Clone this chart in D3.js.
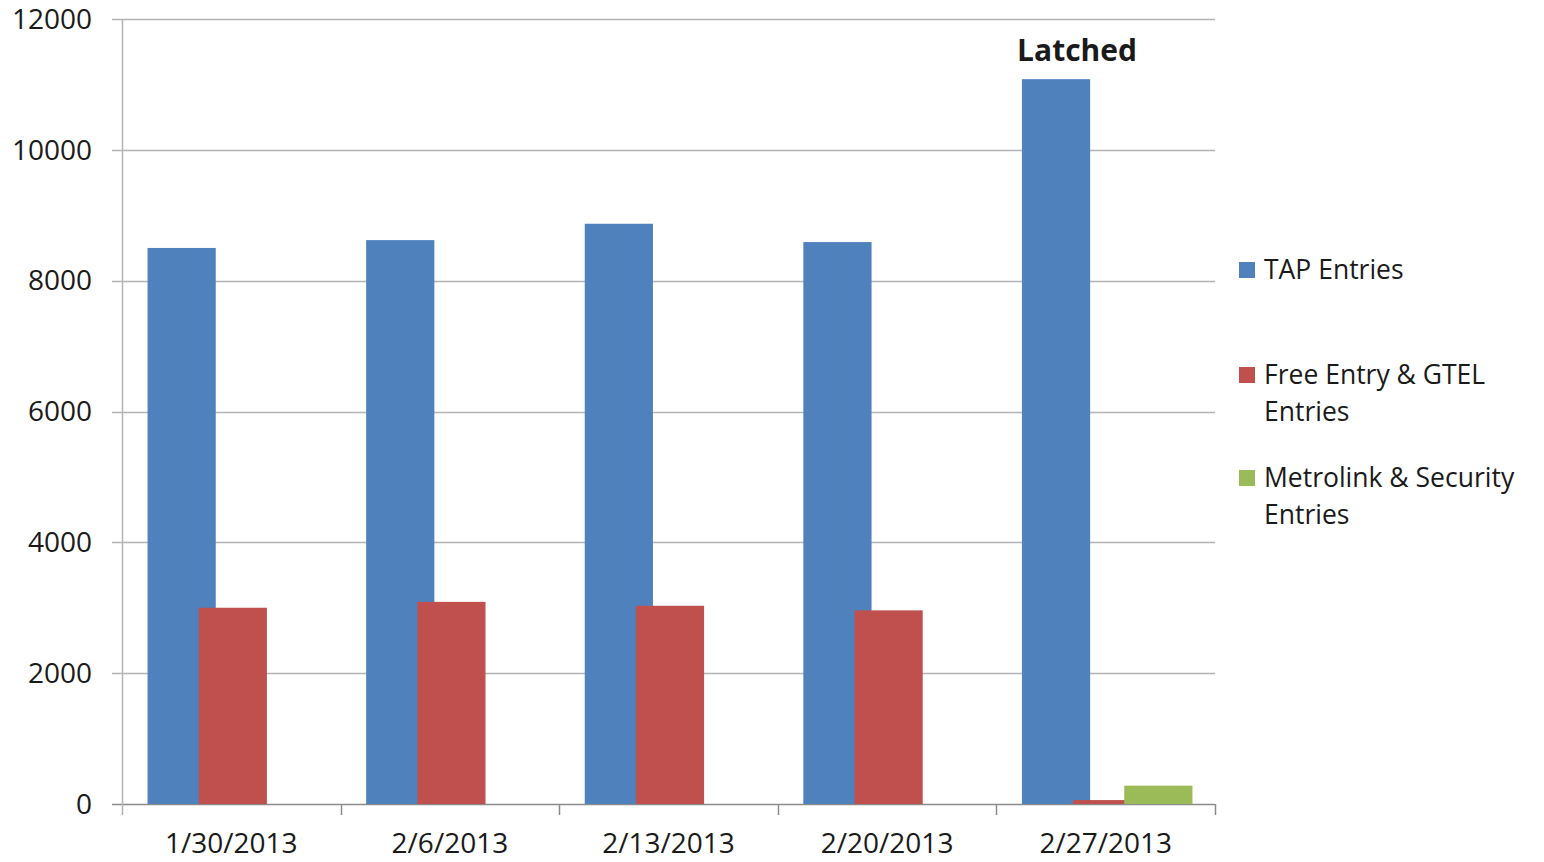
<!DOCTYPE html>
<html>
<head>
<meta charset="utf-8">
<script src="https://cdn.jsdelivr.net/npm/d3@7"></script>
<style>
  body { margin: 0; background: #fff; }
  text { font-family: "Open Sans", "DejaVu Sans", sans-serif; fill: #1a1a1a; }
</style>
</head>
<body>
<svg id="chart" width="1544" height="862"></svg>
<script>
// data
const dates = ["1/30/2013", "2/6/2013", "2/13/2013", "2/20/2013", "2/27/2013"];
const tapEntries = [8500, 8620, 8870, 8590, 11080];
const freeEntries = [3000, 3090, 3030, 2960, 60];
const metroEntries = [0, 0, 0, 0, 280];
const seriesNames = ["TAP Entries", "Free Entry & GTEL Entries", "Metrolink & Security Entries"];
const legendLines = [["TAP Entries"], ["Free Entry & GTEL", "Entries"], ["Metrolink & Security", "Entries"]];
const yTicks = [0, 2000, 4000, 6000, 8000, 10000, 12000];
const note = "Latched";

const colors = ["#4f81bd", "#c0504d", "#9bbb59"];
const seriesValues = [tapEntries, freeEntries, metroEntries];

var svg = d3.select("#chart"),
    margin = {top: 19, right: 329, bottom: 58, left: 122},
    width = 1544, height = 862;

var x0 = d3.scaleBand()
    .domain(dates)
    .range([margin.left, width - margin.right])
    .paddingInner(0).paddingOuter(0);

// bars overlap a bit like in excel: step 51, width 68
var step = x0.bandwidth() * 0.234;
var barW = step * 4 / 3;
var start = (x0.bandwidth() - (2 * step + barW)) / 2 + 1.5;

var x1 = d3.scaleBand()
    .domain(d3.range(seriesNames.length))
    .range([start, start + 3 * step])
    .padding(0);

var y = d3.scaleLinear()
    .domain([0, 12000])
    .range([height - margin.bottom, margin.top]);

// gridlines
svg.append("g")
    .selectAll("line")
    .data(yTicks)
    .enter()
    .append("line")
    .attr("x1", margin.left - 10)
    .attr("x2", width - margin.right)
    .attr("y1", function(d) { return Math.round(y(d)) + 0.5; })
    .attr("y2", function(d) { return Math.round(y(d)) + 0.5; })
    .attr("stroke", function(d) { return d === 0 ? "#8c8c8c" : "#b3b3b3"; })
    .attr("stroke-width", 1.5);

// y axis line
svg.append("line")
    .attr("x1", margin.left + 0.5).attr("x2", margin.left + 0.5)
    .attr("y1", y(12000)).attr("y2", y(0) + 11)
    .attr("stroke", "#b3b3b3").attr("stroke-width", 1.5);

// y tick labels
svg.append("g")
    .selectAll("text")
    .data(yTicks)
    .enter()
    .append("text")
    .attr("x", margin.left - 30)
    .attr("y", function(d) { return y(d); })
    .attr("dy", "0.35em")
    .attr("text-anchor", "end")
    .attr("font-size", 28)
    .text(function(d) { return d; });

// category tick marks at the band edges
var edges = dates.map(function(d) { return x0(d); }).concat([x0(dates[dates.length - 1]) + x0.bandwidth()]);
svg.append("g")
    .selectAll("line")
    .data(edges.slice(1))
    .enter()
    .append("line")
    .attr("x1", function(d) { return Math.round(d) + 0.5; })
    .attr("x2", function(d) { return Math.round(d) + 0.5; })
    .attr("y1", y(0)).attr("y2", y(0) + 11)
    .attr("stroke", "#8c8c8c").attr("stroke-width", 1.5);

// bars, series drawn in order so later ones sit on top
seriesValues.forEach(function(vals, si) {
    svg.append("g")
        .attr("fill", colors[si])
        .selectAll("rect")
        .data(dates.map(function(d, i) { return {date: d, value: vals[i]}; }))
        .enter()
        .append("rect")
        .attr("x", function(d) { return x0(d.date) + x1(si); })
        .attr("width", barW)
        .attr("y", function(d) { return y(d.value); })
        .attr("height", function(d) { return y(0) - y(d.value); });
});

// category labels
svg.append("g")
    .selectAll("text")
    .data(dates)
    .enter()
    .append("text")
    .attr("x", function(d) { return x0(d) + x0.bandwidth() / 2; })
    .attr("y", 853)
    .attr("text-anchor", "middle")
    .attr("font-size", 28)
    .text(function(d) { return d; });

// annotation above the last blue bar
var last = dates[dates.length - 1];
svg.append("text")
    .attr("x", x0(last) + x1(0) + barW / 2 + 21)
    .attr("y", 61)
    .attr("text-anchor", "middle")
    .attr("font-size", 30)
    .attr("font-weight", "bold")
    .attr("fill", "#000")
    .text(note);

// legend
var legendY = [270, 375, 478];
var legend = svg.append("g");
legendLines.forEach(function(lines, i) {
    legend.append("rect")
        .attr("x", 1239).attr("y", legendY[i] - 8)
        .attr("width", 16).attr("height", 16)
        .attr("fill", colors[i]);
    lines.forEach(function(t, j) {
        legend.append("text")
            .attr("x", 1264)
            .attr("y", legendY[i] + j * 37)
            .attr("dy", "0.35em")
            .attr("font-size", 26.5)
            .text(t);
    });
});
</script>
</body>
</html>
